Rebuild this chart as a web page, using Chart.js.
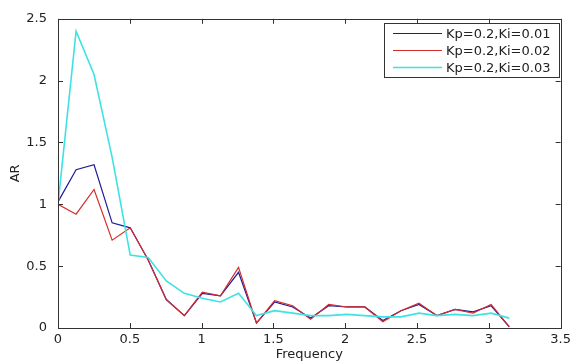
<!DOCTYPE html>
<html>
<head>
<meta charset="utf-8">
<script src="https://cdn.jsdelivr.net/npm/chart.js@4/dist/chart.umd.min.js"></script>
<style>
  html, body { margin: 0; padding: 0; background: #fff; }
  #wrap { width: 575px; height: 362px; }
</style>
</head>
<body>
<div id="wrap"><canvas id="arChart" width="575" height="362"></canvas></div>
<script>
// frequency samples (rad)
const freq = [0, 0.126, 0.251, 0.377, 0.503, 0.628, 0.754, 0.880, 1.005, 1.131,
              1.257, 1.382, 1.508, 1.634, 1.759, 1.885, 2.011, 2.136, 2.262, 2.388,
              2.513, 2.639, 2.765, 2.890, 3.016, 3.142];

const arKi001 = [1.02, 1.28, 1.32, 0.85, 0.81, 0.55, 0.23, 0.10, 0.28, 0.26,
                 0.45, 0.04, 0.21, 0.17, 0.08, 0.18, 0.17, 0.17, 0.06, 0.14,
                 0.19, 0.10, 0.15, 0.13, 0.18, 0.01];
const arKi002 = [1.00, 0.92, 1.12, 0.71, 0.81, 0.55, 0.23, 0.10, 0.29, 0.26,
                 0.49, 0.04, 0.22, 0.18, 0.07, 0.19, 0.17, 0.17, 0.05, 0.14,
                 0.20, 0.10, 0.15, 0.12, 0.19, 0.01];
const arKi003 = [1.00, 2.40, 2.05, 1.38, 0.59, 0.57, 0.38, 0.28, 0.24, 0.21,
                 0.28, 0.10, 0.14, 0.12, 0.10, 0.10, 0.11, 0.10, 0.09, 0.09,
                 0.12, 0.10, 0.11, 0.10, 0.12, 0.08];

const seriesLabels = ['Kp=0.2,Ki=0.01', 'Kp=0.2,Ki=0.02', 'Kp=0.2,Ki=0.03'];

const xTicks = [0, 0.5, 1, 1.5, 2, 2.5, 3, 3.5];
const yTicks = [0, 0.5, 1, 1.5, 2, 2.5];

const colors = {
    blue: '#1c1c9c',
    red: '#d42b2b',
    cyan: '#3fe2e2'
};

const fontFamily = '"DejaVu Sans", Arial, sans-serif';

function toPoints(values) {
    return freq.map((f, i) => ({ x: f, y: values[i] }));
}

// box frame, inward ticks on all four sides, legend inside the plot
const matlabFrame = {
    id: 'matlabFrame',
    afterDraw(chart) {
        const ctx = chart.ctx;
        const area = chart.chartArea;
        const xs = chart.scales.x;
        const ys = chart.scales.y;
        const tick = 5;

        ctx.save();
        ctx.strokeStyle = '#333';
        ctx.lineWidth = 1;
        ctx.strokeRect(Math.round(area.left) + 0.5, Math.round(area.top) + 0.5,
            Math.round(area.right - area.left), Math.round(area.bottom - area.top));

        ctx.beginPath();
        xTicks.forEach(v => {
            const px = Math.round(xs.getPixelForValue(v)) + 0.5;
            ctx.moveTo(px, area.bottom);
            ctx.lineTo(px, area.bottom - tick);
            ctx.moveTo(px, area.top);
            ctx.lineTo(px, area.top + tick);
        });
        yTicks.forEach(v => {
            const py = Math.round(ys.getPixelForValue(v)) + 0.5;
            ctx.moveTo(area.left, py);
            ctx.lineTo(area.left + tick, py);
            ctx.moveTo(area.right, py);
            ctx.lineTo(area.right - tick, py);
        });
        ctx.stroke();

        // legend
        const box = { left: 384, top: 23, width: 175, height: 54 };
        ctx.fillStyle = '#fff';
        ctx.fillRect(box.left, box.top, box.width, box.height);
        ctx.strokeStyle = '#333';
        ctx.strokeRect(box.left + 0.5, box.top + 0.5, box.width, box.height);

        ctx.font = '13px ' + fontFamily;
        ctx.textBaseline = 'middle';
        ctx.textAlign = 'left';
        chart.data.datasets.forEach((ds, i) => {
            const y = box.top + 10.5 + i * 17;
            ctx.beginPath();
            ctx.strokeStyle = ds.borderColor;
            ctx.lineWidth = ds.borderWidth;
            ctx.moveTo(393, y);
            ctx.lineTo(442, y);
            ctx.stroke();
            ctx.fillStyle = '#222';
            ctx.fillText(ds.label, 446, y + 1);
        });
        ctx.restore();
    }
};

const ctx = document.getElementById('arChart').getContext('2d');
new Chart(ctx, {
    type: 'line',
    data: {
        datasets: [
            {
                label: seriesLabels[0],
                data: toPoints(arKi001),
                borderColor: colors.blue,
                borderWidth: 1.2,
                pointRadius: 0,
                order: 3
            },
            {
                label: seriesLabels[1],
                data: toPoints(arKi002),
                borderColor: colors.red,
                borderWidth: 1.2,
                pointRadius: 0,
                order: 2
            },
            {
                label: seriesLabels[2],
                data: toPoints(arKi003),
                borderColor: colors.cyan,
                borderWidth: 1.6,
                pointRadius: 0,
                order: 1
            }
        ]
    },
    options: {
        responsive: false,
        animation: false,
        layout: {
            padding: { top: 16, right: 10, left: 0, bottom: 0 }
        },
        scales: {
            x: {
                type: 'linear',
                min: 0,
                max: 3.5,
                afterFit(scale) { scale.height = 34; },
                afterBuildTicks(scale) { scale.ticks = xTicks.map(v => ({ value: v })); },
                grid: { display: false, drawTicks: false },
                border: { display: false },
                ticks: {
                    padding: 4,
                    color: '#222',
                    font: { family: fontFamily, size: 13 },
                    maxRotation: 0,
                    callback: v => String(v)
                },
                title: {
                    display: true,
                    text: 'Frequency',
                    color: '#222',
                    padding: { top: 0, bottom: 0 },
                    font: { family: fontFamily, size: 13 }
                }
            },
            y: {
                type: 'linear',
                min: 0,
                max: 2.5,
                afterFit(scale) { scale.width = 58; },
                afterBuildTicks(scale) { scale.ticks = yTicks.map(v => ({ value: v })); },
                grid: { display: false, drawTicks: false },
                border: { display: false },
                ticks: {
                    padding: 11,
                    color: '#222',
                    font: { family: fontFamily, size: 13 },
                    callback: v => String(v)
                },
                title: {
                    display: true,
                    text: 'AR',
                    color: '#222',
                    padding: { top: 8, bottom: 0 },
                    font: { family: fontFamily, size: 13 }
                }
            }
        },
        plugins: {
            legend: { display: false },
            tooltip: { enabled: false }
        }
    },
    plugins: [matlabFrame]
});
</script>
</body>
</html>
